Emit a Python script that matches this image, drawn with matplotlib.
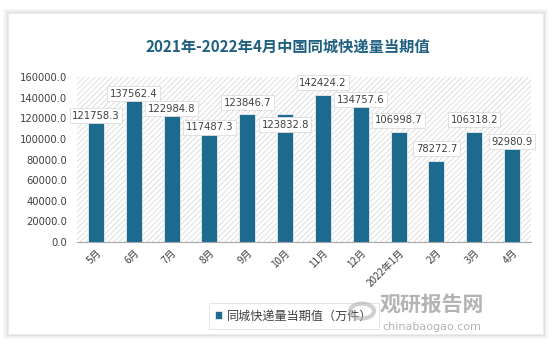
"""
2021年-2022年4月中国同城快递量当期值 柱状图
"""

import matplotlib
matplotlib.use("Agg")
from matplotlib import pyplot as plt
from matplotlib import patches

plt.rcParams['font.family'] = ['Noto Sans CJK SC', 'DejaVu Sans']
plt.rcParams['hatch.linewidth'] = 0.6

# 数据
months = ["5月", "6月", "7月", "8月", "9月", "10月", "11月", "12月",
          "2022年1月", "2月", "3月", "4月"]
values = [121758.3, 137562.4, 122984.8, 117487.3, 123846.7, 123832.8,
          142424.2, 134757.6, 106998.7, 78272.7, 106318.2, 92980.9]
y_ticks = [0, 20000, 40000, 60000, 80000, 100000, 120000, 140000, 160000]
title = "2021年-2022年4月中国同城快递量当期值"
legend_name = "同城快递量当期值（万件）"

# 数据标签在图里被手动挪过位置，这里是相对柱顶的偏移
label_offset = [500, 6000, 6000, -6000, 11000, -10000,
                12000, 3000, 11300, 12000, 12000, 4000]

W, H = 554, 343
fig = plt.figure(figsize=(W / 100, H / 100), dpi=100)
fig.patch.set_facecolor("white")

# 卡片 + 阴影
for i, a in enumerate([0.03, 0.04, 0.05]):
    d = (3 - i) * 1.5
    fig.patches.append(patches.Rectangle(
        ((8 - d) / W, 1 - (334 + d) / H), (535 + 2 * d) / W, (321 + 2 * d) / H,
        transform=fig.transFigure, facecolor="#000000", alpha=a, edgecolor="none", zorder=0))
fig.patches.append(patches.Rectangle(
    (8 / W, 1 - 334 / H), 535 / W, 321 / H,
    transform=fig.transFigure, facecolor="white", edgecolor="#ececec", lw=0.6, zorder=1))

ax = fig.add_axes([77 / W, 1 - 242 / H, (531 - 77) / W, (242 - 77) / H])
ax.set_facecolor("none")
ax.set_zorder(2)

x = range(len(months))
ax.set_xlim(-0.5, len(months) - 0.5)
ax.set_ylim(0, 160000)

# 斜线底纹背景
ax.add_patch(patches.Rectangle((-0.5, 0), len(months), 160000, facecolor="white",
                               edgecolor="#d9d9d9", hatch="//////", lw=0, zorder=0))

bars = ax.bar(x, values, width=0.42, color="#1c6a8d", edgecolor="#e8eef2",
              linewidth=0.6, zorder=2, label=legend_name)

for i, v in enumerate(values):
    ax.text(i, v + label_offset[i], f"{v:.1f}", ha="center", va="center",
            fontsize=7.2, color="#404040", family="DejaVu Sans", zorder=4,
            bbox=dict(boxstyle="square,pad=0.25", facecolor="white",
                      edgecolor="#dcdcdc", lw=0.6))

ax.set_yticks(y_ticks)
ax.set_yticklabels([f"{t:.1f}" for t in y_ticks], fontsize=7.2, color="#404040",
                   family="DejaVu Sans")
ax.set_xticks(list(x))
ax.set_xticklabels(months, fontsize=7.2, color="#404040", rotation=45,
                   ha="right", rotation_mode="anchor")
ax.tick_params(axis="x", length=0, pad=4)
ax.tick_params(axis="y", length=0, pad=7)
for s in ["left", "right", "top"]:
    ax.spines[s].set_visible(False)
ax.spines["bottom"].set_color("#a6a6a6")
ax.spines["bottom"].set_linewidth(0.8)

fig.text(288 / W, 1 - 47 / H, title, ha="center", va="center", fontsize=11,
         fontweight="bold", color="#1f5f80", zorder=3)

leg = fig.legend(loc="center", bbox_to_anchor=(294 / W, 1 - 316 / H), frameon=True,
                 fontsize=8.7, handlelength=0.6, handleheight=0.6, handletextpad=0.4,
                 borderpad=0.5, fancybox=False)
leg.get_frame().set_edgecolor("#d9d9d9")
leg.get_frame().set_linewidth(0.6)
for t in leg.get_texts():
    t.set_color("#404040")
leg.set_zorder(3)

# 水印
fig.text(432 / W, 1 - 304 / H, "观研报告网", ha="center", va="center", fontsize=15,
         fontweight="bold", color="#9a9a9a", alpha=0.75, zorder=5)
fig.text(432 / W, 1 - 327 / H, "chinabaogao.com", ha="center", va="center",
         fontsize=8, color="#9a9a9a", alpha=0.75, family="DejaVu Sans", zorder=5)
fig.patches.append(patches.Circle((362 / W, 1 - 311 / H), 12 / W, transform=fig.transFigure,
                                  facecolor="none", edgecolor="#b0b0b0", lw=3, alpha=0.6, zorder=5))

fig.savefig("out.png", dpi=100)
